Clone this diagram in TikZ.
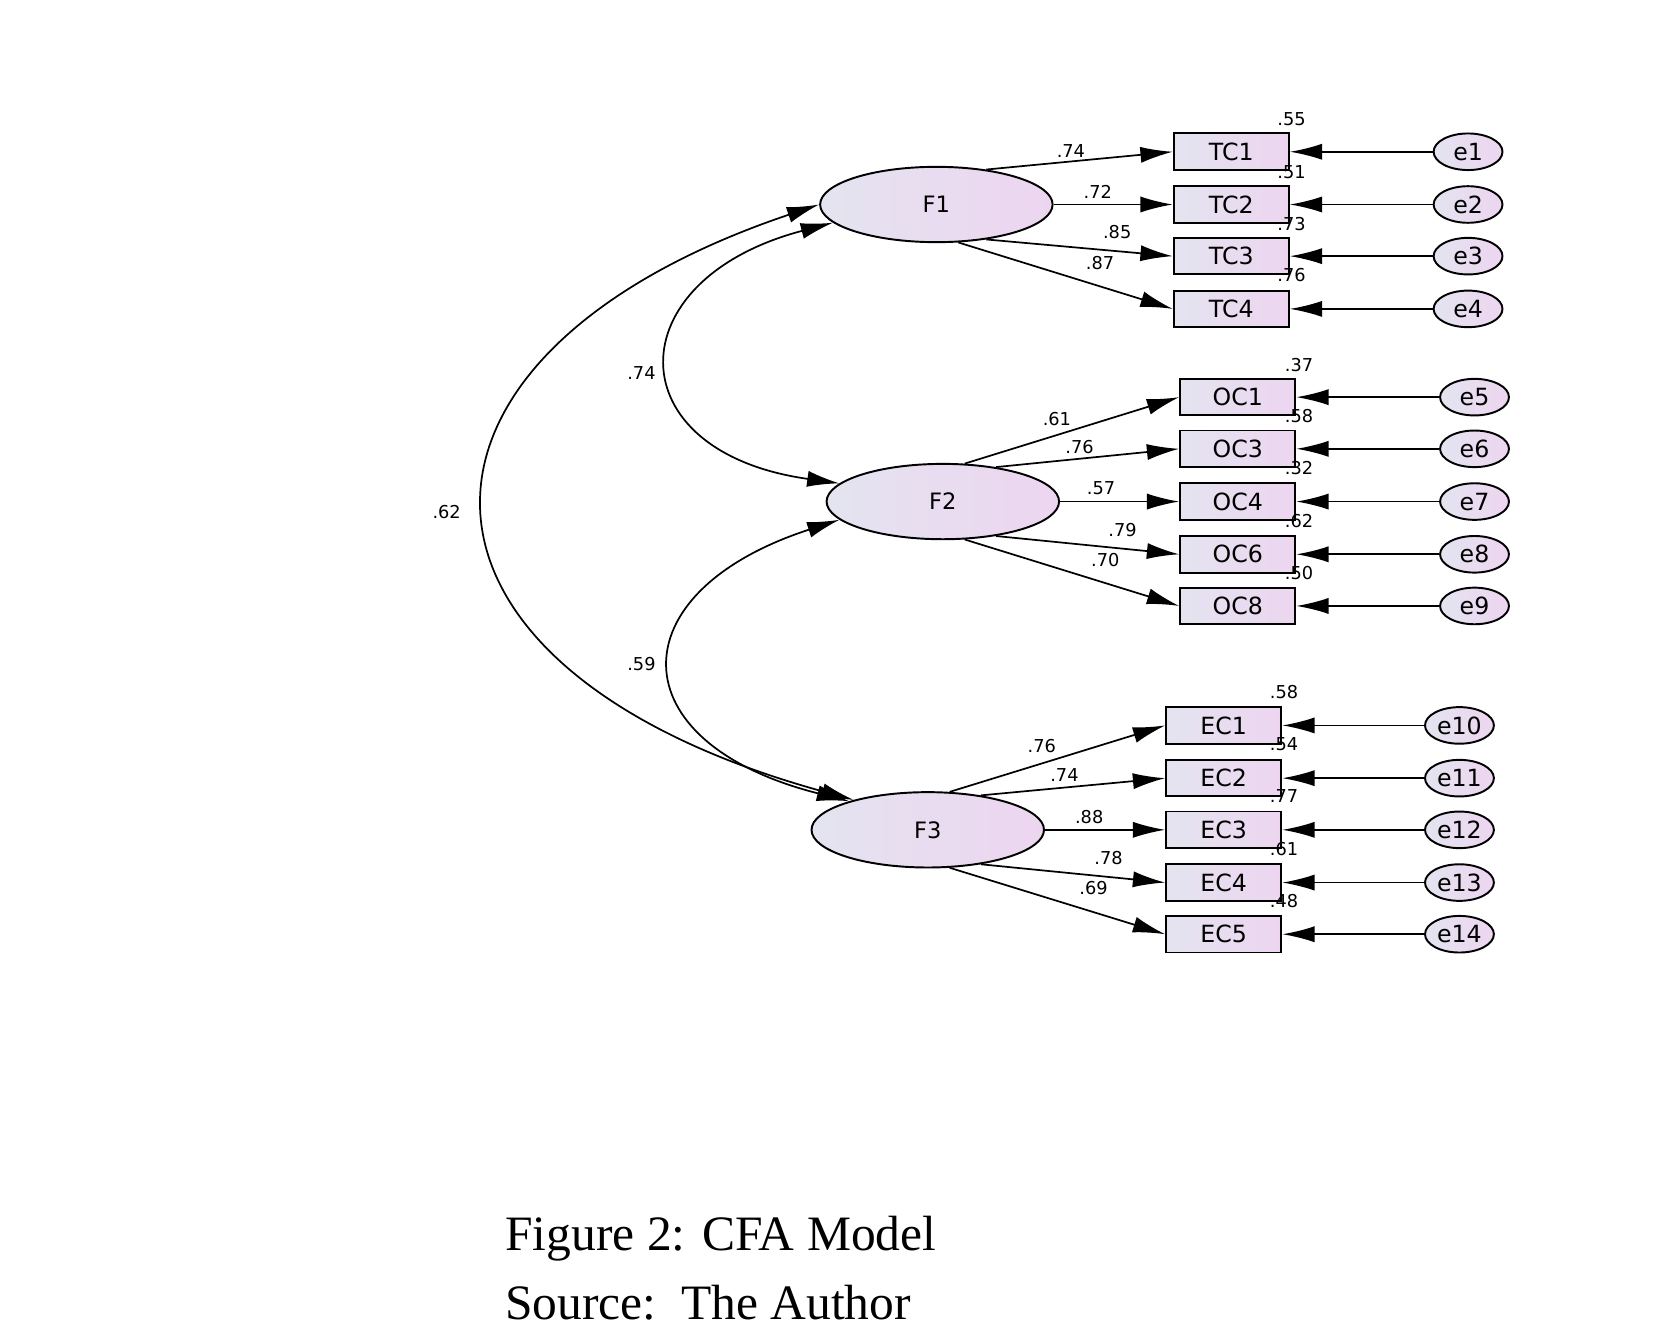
\documentclass[tikz,border=0pt]{standalone}
\usepackage{fontspec}
\setmainfont{Liberation Serif}
\newfontfamily\diag{DejaVu Sans}
\usetikzlibrary{arrows.meta,shapes.geometric}
\definecolor{cA}{HTML}{E4E4F0}
\definecolor{cB}{HTML}{EDD5F0}
\begin{document}
\begin{tikzpicture}[x=1pt,y=-1pt,
  lat/.style={ellipse,draw,line width=1.8pt,left color=cA,right color=cB,minimum width=216pt,minimum height=70pt,font=\diag\fontsize{21}{21}\selectfont},
  obs/.style={rectangle,draw,line width=1.8pt,left color=cA,right color=cB,minimum width=107pt,minimum height=34pt,inner sep=0pt,font=\diag\fontsize{22}{22}\selectfont},
  err/.style={ellipse,draw,line width=1.8pt,left color=cA,right color=cB,minimum width=64pt,minimum height=34pt,inner sep=0pt,font=\diag\fontsize{22}{22}\selectfont},
  arr/.style={line width=1.6pt,-{Latex[length=30pt,width=15pt]}},
  dbl/.style={line width=1.6pt,{Latex[length=30pt,width=15pt]}-{Latex[length=30pt,width=15pt]}},
  lab/.style={font=\diag\fontsize{16.5}{16.5}\selectfont}]
\useasboundingbox (0,0) rectangle (1560,1237);
\node[lat] (F1) at (870,190) {F1};
\node[lat] (F2) at (876,466) {F2};
\node[lat] (F3) at (862,771) {F3};
\foreach \n/\y/\e in {1/141/1,2/190/2,3/238/3,4/287/4}{
  \node[obs] (TC\n) at (1144,\y) {TC\n};
  \node[err] (e\e) at (1364,\y) {e\e};
  \draw[arr] (e\e) -- (TC\n);
}
\foreach \n/\y/\e in {1/369/5,3/417/6,4/466/7,6/515/8,8/563/9}{
  \node[obs] (OC\n) at (1150,\y) {OC\n};
  \node[err] (e\e) at (1370,\y) {e\e};
  \draw[arr] (e\e) -- (OC\n);
}
\foreach \n/\y/\e in {1/674/10,2/723/11,3/771/12,4/820/13,5/868/14}{
  \node[obs] (EC\n) at (1137,\y) {EC\n};
  \node[err] (e\e) at (1356,\y) {e\e};
  \draw[arr] (e\e) -- (EC\n);
}
\draw[arr] (F1.35) -- (TC1.west);
\draw[arr] (F1.east) -- (TC2.west);
\draw[arr] (F1.-35) -- (TC3.west);
\draw[arr] (F1.-60) -- (TC4.west);
\draw[arr] (F2.60) -- (OC1.west);
\draw[arr] (F2.33) -- (OC3.west);
\draw[arr] (F2.east) -- (OC4.west);
\draw[arr] (F2.-33) -- (OC6.west);
\draw[arr] (F2.-60) -- (OC8.west);
\draw[arr] (F3.60) -- (EC1.west);
\draw[arr] (F3.33) -- (EC2.west);
\draw[arr] (F3.east) -- (EC3.west);
\draw[arr] (F3.-33) -- (EC4.west);
\draw[arr] (F3.-60) -- (EC5.west);
\draw[dbl] (F1.190) .. controls (572,260) and (572,420) .. (F2.170);
\draw[dbl] (F2.190) .. controls (573,550) and (573,690) .. (F3.160);
\draw[dbl] (F1.180) .. controls (345,330) and (345,620) .. (F3.158);
\node[lab] at (596,347) {.74};
\node[lab] at (596,617) {.59};
\node[lab] at (415,476) {.62};
\foreach \t/\x/\y in {.74/995/140,.72/1020/178,.85/1038/216,.87/1022/244,
  .55/1200/111,.51/1200/160,.73/1200/208,.76/1200/256,
  .61/982/389,.76/1003/415,.57/1023/454,.79/1043/492,.70/1027/520,
  .37/1207/339,.58/1207/387,.32/1207/435,.62/1207/484,.50/1207/532,
  .76/968/693,.74/989/720,.88/1012/759,.78/1030/797,.69/1016/825,
  .58/1193/643,.54/1193/691,.77/1193/740,.61/1193/789,.48/1193/837}
  \node[lab] at (\x,\y) {\t};
\node[anchor=base west,font=\fontsize{46}{46}\selectfont] (cap) at (466,1162) {Figure 2: CFA Model};
\node[anchor=base west,font=\fontsize{46}{46}\selectfont] (src) at (466,1226) {Source:\ \ The Author};
\end{tikzpicture}
\end{document}
